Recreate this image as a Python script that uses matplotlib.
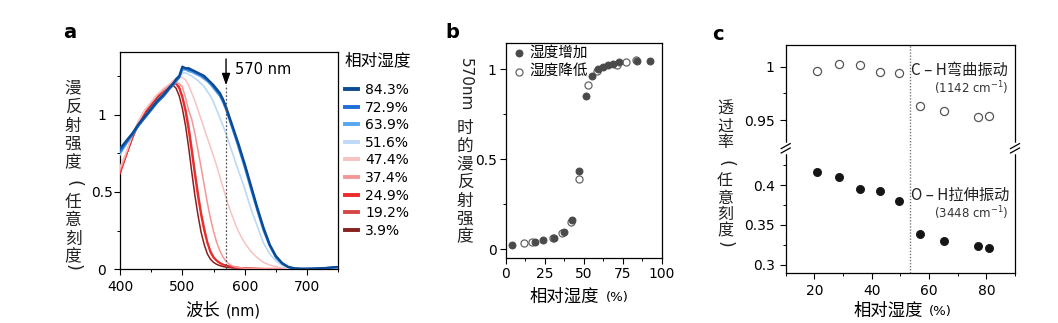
import matplotlib
matplotlib.use('Agg')
import matplotlib.pyplot as plt
from matplotlib.lines import Line2D
from matplotlib.ticker import FixedLocator, FuncFormatter
from matplotlib.font_manager import FontProperties

CJK = ['Noto Sans CJK SC', 'DejaVu Sans']
plt.rcParams['font.family'] = ['DejaVu Sans']
plt.rcParams['mathtext.fontset'] = 'dejavusans'

# ---------------- data: panel a (diffuse reflectance spectra) ----------------
wavelength = [400, 410, 420, 430, 440, 450, 460, 470, 480, 485, 490, 495, 500, 505,
              510, 515, 520, 525, 530, 535, 540, 545, 550, 555, 560, 565, 570, 575,
              580, 585, 590, 595, 600, 610, 620, 630, 640, 650, 660, 670, 680, 690,
              700, 710, 720, 730, 740, 750]
humidity_labels = ['84.3%', '72.9%', '63.9%', '51.6%', '47.4%', '37.4%', '24.9%', '19.2%', '3.9%']
colors_a = ['#0d4a94', '#1b6fd6', '#5aa6ee', '#bcd9f5', '#f7c2c2', '#f59797', '#ee2a2a', '#d54848', '#8a1f1f']

spec_843 = [0.78, 0.83, 0.88, 0.94, 0.99, 1.04, 1.09, 1.13, 1.18, 1.20, 1.23, 1.25, 1.31, 1.30,
            1.30, 1.29, 1.28, 1.27, 1.26, 1.25, 1.23, 1.21, 1.19, 1.165, 1.14, 1.10, 1.05, 0.99,
            0.93, 0.87, 0.81, 0.745, 0.68, 0.54, 0.40, 0.27, 0.16, 0.085, 0.04, 0.015, 0.006, 0.003,
            0.003, 0.004, 0.006, 0.008, 0.012, 0.015]
spec_729 = [0.76, 0.82, 0.87, 0.93, 0.98, 1.03, 1.08, 1.12, 1.17, 1.19, 1.22, 1.24, 1.30, 1.30,
            1.29, 1.285, 1.275, 1.265, 1.255, 1.24, 1.225, 1.205, 1.18, 1.155, 1.13, 1.09, 1.04, 0.98,
            0.92, 0.86, 0.80, 0.735, 0.67, 0.53, 0.39, 0.26, 0.155, 0.08, 0.037, 0.014, 0.005, 0.003,
            0.003, 0.004, 0.006, 0.008, 0.011, 0.014]
spec_639 = [0.75, 0.81, 0.87, 0.93, 0.98, 1.03, 1.08, 1.12, 1.17, 1.19, 1.215, 1.24, 1.29, 1.29,
            1.28, 1.275, 1.265, 1.255, 1.245, 1.23, 1.215, 1.195, 1.17, 1.145, 1.12, 1.08, 1.03, 0.97,
            0.91, 0.85, 0.785, 0.72, 0.655, 0.515, 0.38, 0.25, 0.15, 0.075, 0.035, 0.013, 0.005, 0.003,
            0.003, 0.004, 0.006, 0.008, 0.011, 0.014]
spec_516 = [0.74, 0.81, 0.87, 0.93, 0.98, 1.03, 1.08, 1.12, 1.17, 1.19, 1.21, 1.24, 1.27, 1.27,
            1.26, 1.25, 1.235, 1.22, 1.20, 1.18, 1.15, 1.12, 1.08, 1.03, 0.98, 0.93, 0.875, 0.815,
            0.755, 0.695, 0.635, 0.58, 0.52, 0.39, 0.28, 0.17, 0.10, 0.055, 0.025, 0.01, 0.004, 0.002,
            0.002, 0.003, 0.005, 0.007, 0.01, 0.013]
spec_474 = [0.66, 0.76, 0.87, 0.96, 1.03, 1.08, 1.13, 1.17, 1.20, 1.22, 1.23, 1.24, 1.24, 1.225,
            1.19, 1.14, 1.09, 1.03, 0.97, 0.91, 0.85, 0.79, 0.73, 0.67, 0.60, 0.53, 0.465, 0.40,
            0.345, 0.29, 0.245, 0.205, 0.17, 0.115, 0.075, 0.045, 0.028, 0.017, 0.01, 0.006, 0.004, 0.003,
            0.003, 0.003, 0.004, 0.005, 0.007, 0.009]
spec_374 = [0.64, 0.75, 0.87, 0.96, 1.03, 1.08, 1.13, 1.16, 1.19, 1.20, 1.21, 1.20, 1.18, 1.11,
            1.03, 0.97, 0.88, 0.77, 0.66, 0.545, 0.43, 0.33, 0.245, 0.175, 0.12, 0.08, 0.052, 0.034,
            0.022, 0.016, 0.012, 0.009, 0.007, 0.005, 0.004, 0.003, 0.003, 0.003, 0.003, 0.003, 0.003, 0.003,
            0.003, 0.003, 0.004, 0.005, 0.006, 0.008]
spec_249 = [0.62, 0.74, 0.86, 0.95, 1.02, 1.07, 1.12, 1.16, 1.19, 1.205, 1.20, 1.17, 1.11, 1.02,
            0.90, 0.76, 0.61, 0.47, 0.35, 0.25, 0.17, 0.11, 0.075, 0.055, 0.04, 0.03, 0.025, 0.02,
            0.015, 0.012, 0.01, 0.008, 0.007, 0.005, 0.004, 0.003, 0.003, 0.003, 0.003, 0.003, 0.003, 0.003,
            0.003, 0.003, 0.004, 0.005, 0.006, 0.008]
spec_192 = [0.63, 0.74, 0.85, 0.95, 1.02, 1.07, 1.12, 1.15, 1.19, 1.20, 1.20, 1.18, 1.12, 1.04,
            0.93, 0.79, 0.64, 0.50, 0.37, 0.27, 0.18, 0.12, 0.08, 0.057, 0.042, 0.032, 0.025, 0.02,
            0.015, 0.012, 0.01, 0.008, 0.007, 0.005, 0.004, 0.003, 0.003, 0.003, 0.003, 0.003, 0.003, 0.003,
            0.003, 0.003, 0.004, 0.005, 0.006, 0.008]
spec_39 = [0.63, 0.74, 0.85, 0.94, 1.01, 1.06, 1.11, 1.15, 1.18, 1.19, 1.17, 1.12, 1.04, 0.93,
           0.79, 0.63, 0.48, 0.35, 0.24, 0.16, 0.10, 0.065, 0.045, 0.032, 0.024, 0.018, 0.014, 0.011,
           0.009, 0.008, 0.007, 0.006, 0.005, 0.004, 0.003, 0.003, 0.003, 0.003, 0.003, 0.003, 0.003, 0.003,
           0.003, 0.003, 0.004, 0.005, 0.006, 0.008]
spectra = [spec_843, spec_729, spec_639, spec_516, spec_474, spec_374, spec_249, spec_192, spec_39]
marker_wavelength = 570

# ---------------- data: panel b (reflectance at 570 nm vs RH) ----------------
rh_increase = [3.8, 18.8, 24.1, 31.2, 37.4, 42.3, 47.0, 51.5, 55.5, 59.4, 62.6, 65.8, 68.6, 72.8, 83.9, 92.5]
refl_increase = [0.022, 0.042, 0.052, 0.065, 0.096, 0.162, 0.432, 0.852, 0.963, 0.998, 1.013, 1.022, 1.028, 1.037, 1.042, 1.042]
rh_decrease = [11.7, 17.1, 30.5, 35.9, 41.6, 47.2, 52.5, 58.7, 71.1, 76.9, 83.3]
refl_decrease = [0.033, 0.040, 0.063, 0.090, 0.150, 0.388, 0.910, 0.990, 1.025, 1.037, 1.050]

# ---------------- data: panel c (IR transmittance vs RH) ----------------
rh_ir = [20.85, 28.65, 35.8, 42.8, 49.7, 56.8, 65.2, 77.2, 80.9]
trans_ch = [0.996, 1.0023, 1.0013, 0.9947, 0.9938, 0.9632, 0.9585, 0.9526, 0.9536]
trans_oh = [0.4159, 0.4104, 0.3954, 0.3925, 0.3796, 0.3388, 0.3304, 0.3238, 0.3209]
transition_rh = 53.3

# ---------------- figure ----------------
W, H = 1058, 323
fig = plt.figure(figsize=(W / 100, H / 100), dpi=100)


def fx(px):
    return px / W


def fy(py):
    return 1 - py / H


def rect(l, t, r, b):
    return [fx(l), fy(b), (r - l) / W, (b - t) / H]


gfmt = FuncFormatter(lambda v, p: '%g' % v)


def style_ax(ax):
    for s in ax.spines.values():
        s.set_linewidth(0.9)
    ax.tick_params(which='major', direction='out', length=4, width=0.8, labelsize=10)
    ax.tick_params(which='minor', direction='out', length=2.2, width=0.7)


def stack_label(chars, x, ys, size):
    for ch, yy in zip(chars, ys):
        if ch in '()':
            # parentheses turned for vertical writing
            fig.text(fx(x), fy(yy), ch, rotation=-90, ha='center', va='center',
                     fontsize=size + 1, color='#222222')
        else:
            fig.text(fx(x), fy(yy), ch, ha='center', va='center', fontsize=size, family=CJK,
                     color='#222222')


# ---- panel a ----
axa = fig.add_axes(rect(120, 52.3, 338.3, 269.3))
style_ax(axa)
lws = [1.7, 1.5, 1.4, 1.2, 1.1, 1.1, 1.4, 1.3, 1.1]
lines = []
for i, (spec, col, lab) in enumerate(zip(spectra, colors_a, humidity_labels)):
    ln, = axa.plot(wavelength, spec, color=col, lw=lws[i], label=lab, zorder=20 - i)
    lines.append(ln)
axa.plot([marker_wavelength, marker_wavelength], [0, 1.19], ls=(0, (1.5, 1.5)), color='#555555', lw=0.9, zorder=25)
axa.annotate('', xy=(marker_wavelength, 1.19), xytext=(marker_wavelength, 1.36),
             arrowprops=dict(arrowstyle='-|>,head_length=0.7,head_width=0.25', color='black', lw=1.0,
                             shrinkA=0, shrinkB=0), annotation_clip=False)
axa.text(585, 1.295, '570 nm', fontsize=10.5, ha='left', va='center')
axa.set_xlim(400, 750)
axa.set_ylim(0, 1.403)
axa.xaxis.set_major_locator(FixedLocator([400, 500, 600, 700]))
axa.xaxis.set_minor_locator(FixedLocator([450, 550, 650, 750]))
axa.yaxis.set_major_locator(FixedLocator([0, 0.5, 1]))
axa.yaxis.set_minor_locator(FixedLocator([0.25, 0.75, 1.25]))
axa.xaxis.set_major_formatter(gfmt)
axa.yaxis.set_major_formatter(gfmt)
axa.tick_params(axis='y', which='major', pad=9)
for t in axa.get_yticklabels():
    t.set_ha('center')
axa.tick_params(axis='x', which='major', pad=4)

handles = [Line2D([], [], color=c, lw=2.8) for c in colors_a]
leg = axa.legend(handles, humidity_labels, loc='upper left',
                 bbox_to_anchor=(fx(345), fy(52)), bbox_transform=fig.transFigure,
                 frameon=False, handlelength=0.95, handletextpad=0.5, labelspacing=0.26,
                 borderpad=0, borderaxespad=0, title='相对湿度',
                 title_fontproperties=FontProperties(family=CJK, size=12),
                 prop={'size': 10}, alignment='left')
leg._legend_box.sep = 10

fig.text(fx(185), fy(311), '波长', fontsize=12.5, family=CJK, ha='left', va='center')
fig.text(fx(226), fy(311), '(nm)', fontsize=10.5, ha='left', va='center')
stack_label(['漫', '反', '射', '强', '度', '(', '任', '意', '刻', '度', ')'], 73,
            [88, 107, 126, 144, 163, 183, 202, 221, 239, 257, 268], 12)
fig.text(fx(70), fy(32), 'a', fontsize=14, fontweight='bold', ha='center', va='center')

# ---- panel b ----
axb = fig.add_axes(rect(505.7, 42.7, 661.7, 258.3))
style_ax(axb)
sc_dec = axb.scatter(rh_decrease, refl_decrease, s=26, facecolors='white', edgecolors='#666666',
                     linewidths=0.9, zorder=3, label='湿度降低')
sc_inc = axb.scatter(rh_increase, refl_increase, s=26, facecolors='#4a4a4a', edgecolors='#4a4a4a',
                     linewidths=0.6, zorder=4, label='湿度增加')
axb.set_xlim(0, 100)
axb.set_ylim(-0.05, 1.146)
axb.xaxis.set_major_locator(FixedLocator([0, 25, 50, 75, 100]))
axb.xaxis.set_minor_locator(FixedLocator([12.5, 37.5, 62.5, 87.5]))
axb.yaxis.set_major_locator(FixedLocator([0, 0.5, 1]))
axb.yaxis.set_minor_locator(FixedLocator([0.25, 0.75]))
axb.xaxis.set_major_formatter(gfmt)
axb.yaxis.set_major_formatter(gfmt)
axb.tick_params(axis='y', which='major', pad=2.5)
axb.tick_params(axis='x', which='major', pad=2.5)
axb.legend([sc_inc, sc_dec], ['湿度增加', '湿度降低'], loc='upper left',
           bbox_to_anchor=(fx(510), fy(46)), bbox_transform=fig.transFigure,
           frameon=False, handletextpad=0.15, labelspacing=0.3, borderpad=0, borderaxespad=0,
           handlelength=1.2, prop=FontProperties(family=CJK, size=10.5))
fig.text(fx(530), fy(297), '相对湿度', fontsize=12.5, family=CJK, ha='left', va='center')
fig.text(fx(606), fy(298), '(%)', fontsize=9.5, ha='left', va='center')
fig.text(fx(465), fy(85), '570nm', fontsize=11, rotation=-90, ha='center', va='center', color='#222222')
stack_label(['时', '的', '漫', '反', '射', '强', '度'], 465,
            [128, 147, 164, 182, 201, 219, 237], 12)
fig.text(fx(452), fy(32), 'b', fontsize=14, fontweight='bold', ha='center', va='center')

# ---- panel c (broken y axis) ----
ybreak = 148.3
axc1 = fig.add_axes(rect(785.7, 45, 1015, ybreak))
axc2 = fig.add_axes(rect(785.7, ybreak, 1015, 273.3))
for ax in (axc1, axc2):
    style_ax(ax)
    ax.set_xlim(10, 90)
    ax.axvline(transition_rh, color='#777777', ls=(0, (1, 1.2)), lw=1.0)
axc1.spines['bottom'].set_visible(False)
axc2.spines['top'].set_visible(False)
axc1.scatter(rh_ir, trans_ch, s=34, facecolors='white', edgecolors='#555555', linewidths=0.9, zorder=3)
axc2.scatter(rh_ir, trans_oh, s=34, facecolors='#151515', edgecolors='#151515', linewidths=0.6, zorder=3)
axc1.set_ylim(0.9235, 1.0203)
axc2.set_ylim(0.2896, 0.4459)
axc1.tick_params(axis='x', which='both', bottom=False, labelbottom=False)
axc1.yaxis.set_major_locator(FixedLocator([0.95, 1]))
axc1.yaxis.set_minor_locator(FixedLocator([0.975]))
axc1.yaxis.set_major_formatter(gfmt)
axc2.yaxis.set_major_locator(FixedLocator([0.3, 0.35, 0.4]))
axc2.yaxis.set_minor_locator(FixedLocator([0.325, 0.375, 0.425]))
axc2.yaxis.set_major_formatter(gfmt)
axc2.xaxis.set_major_locator(FixedLocator([20, 40, 60, 80]))
axc2.xaxis.set_minor_locator(FixedLocator([10, 30, 50, 70, 90]))
axc2.xaxis.set_major_formatter(gfmt)
for ax in (axc1, axc2):
    ax.tick_params(axis='y', which='major', pad=4)
axc2.tick_params(axis='x', which='major', pad=4)

# break marks
for xs in (785.7, 1015):
    fig.add_artist(Line2D([fx(xs), fx(xs)], [fy(ybreak - 4), fy(ybreak + 4)], color='white', lw=2.5,
                          transform=fig.transFigure, zorder=50))
    for dy in (-2.2, 2.2):
        fig.add_artist(Line2D([fx(xs - 4.5), fx(xs + 4.5)], [fy(ybreak + dy + 2.5), fy(ybreak + dy - 2.5)],
                              color='black', lw=0.9, transform=fig.transFigure, zorder=51))

fig.text(fx(911), fy(70), 'C – H弯曲振动', fontsize=11, family=CJK, ha='left', va='center', color='#222222')
fig.text(fx(1008), fy(88), '(1142 cm$^{-1}$)', fontsize=8.5, ha='right', va='center', color='#333333')
fig.text(fx(911), fy(195), 'O – H拉伸振动', fontsize=11, family=CJK, ha='left', va='center', color='#222222')
fig.text(fx(1008), fy(213), '(3448 cm$^{-1}$)', fontsize=8.5, ha='right', va='center', color='#333333')

fig.text(fx(854), fy(311), '相对湿度', fontsize=12.5, family=CJK, ha='left', va='center')
fig.text(fx(929), fy(312), '(%)', fontsize=9.5, ha='left', va='center')
stack_label(['透', '过', '率', '(', '任', '意', '刻', '度', ')'], 725,
            [109, 126, 142, 163, 181, 198, 214, 231, 244], 11.5)
fig.text(fx(718), fy(35), 'c', fontsize=14, fontweight='bold', ha='center', va='center')

fig.savefig('out.png', dpi=100)
